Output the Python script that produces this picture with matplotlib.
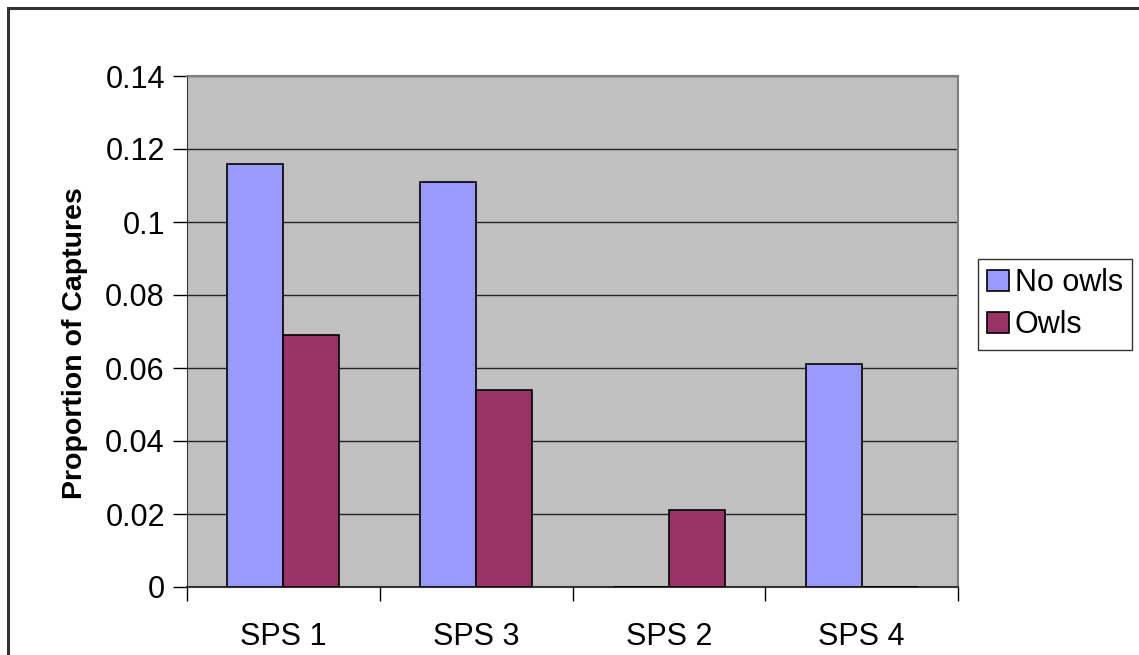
import numpy as np
import matplotlib.pyplot as plt
from matplotlib.patches import Rectangle

plt.rcParams['font.family'] = ['Liberation Sans', 'DejaVu Sans']

categories = ['SPS 1', 'SPS 3', 'SPS 2', 'SPS 4']
no_owls = [0.116, 0.111, 0.0, 0.061]
owls = [0.069, 0.054, 0.021, 0.0]
y_ticks = [0, 0.02, 0.04, 0.06, 0.08, 0.1, 0.12, 0.14]
y_tick_labels = ['0', '0.02', '0.04', '0.06', '0.08', '0.1', '0.12', '0.14']

W, H = 1139, 655
fig = plt.figure(figsize=(W / 100, H / 100), dpi=100)
# outer chart border (runs off the right/bottom edge like the original)
fig.patches.append(Rectangle((8 / W, -0.05), 1.2, 1 - 8 / H + 0.05,
                             transform=fig.transFigure, fill=False,
                             edgecolor='#333333', linewidth=2.2))

ax = fig.add_axes([187 / W, 1 - 587 / H, (958 - 187) / W, (587 - 76) / H])
ax.set_facecolor('#C0C0C0')

x = np.arange(len(categories))
w = 0.29
ax.bar(x - w / 2, no_owls, w, color='#9999FF', edgecolor='black', linewidth=1.2,
       label='No owls', zorder=3)
ax.bar(x + w / 2, owls, w, color='#993366', edgecolor='black', linewidth=1.2,
       label='Owls', zorder=3)

ax.set_xlim(-0.5, len(categories) - 0.5)
ax.set_ylim(0, 0.14)
ax.set_yticks(y_ticks)
ax.set_yticklabels(y_tick_labels, fontsize=22)
for t in y_ticks[1:]:
    ax.axhline(t, color='#222222', linewidth=1, zorder=1)

ax.set_xticks(x)
ax.set_xticklabels(categories, fontsize=22)
ax.tick_params(axis='x', length=0, pad=25)
ax.set_xticks(np.arange(len(categories) + 1) - 0.5, minor=True)
ax.tick_params(axis='x', which='minor', length=10, width=1, color='black')
ax.tick_params(axis='y', length=10, width=1, pad=6)

for s in ['top', 'right']:
    ax.spines[s].set_color('#808080')
    ax.spines[s].set_linewidth(1.5)
ax.spines['left'].set_color('#333333')
ax.spines['bottom'].set_color('#333333')
ax.spines['bottom'].set_linewidth(1.5)

ax.set_ylabel('Proportion of Captures', fontsize=20.5, fontweight='bold')
ax.yaxis.set_label_coords(-0.128, 0.478)

leg = fig.legend(loc='upper left', bbox_to_anchor=(978 / W, 1 - 259 / H), fontsize=22,
                 frameon=True, fancybox=False, edgecolor='black',
                 handlelength=0.7, handleheight=0.7, handletextpad=0.2,
                 borderpad=0.3, labelspacing=0.4, borderaxespad=0)
leg.get_frame().set_linewidth(1)

fig.savefig('out.png', dpi=100)
